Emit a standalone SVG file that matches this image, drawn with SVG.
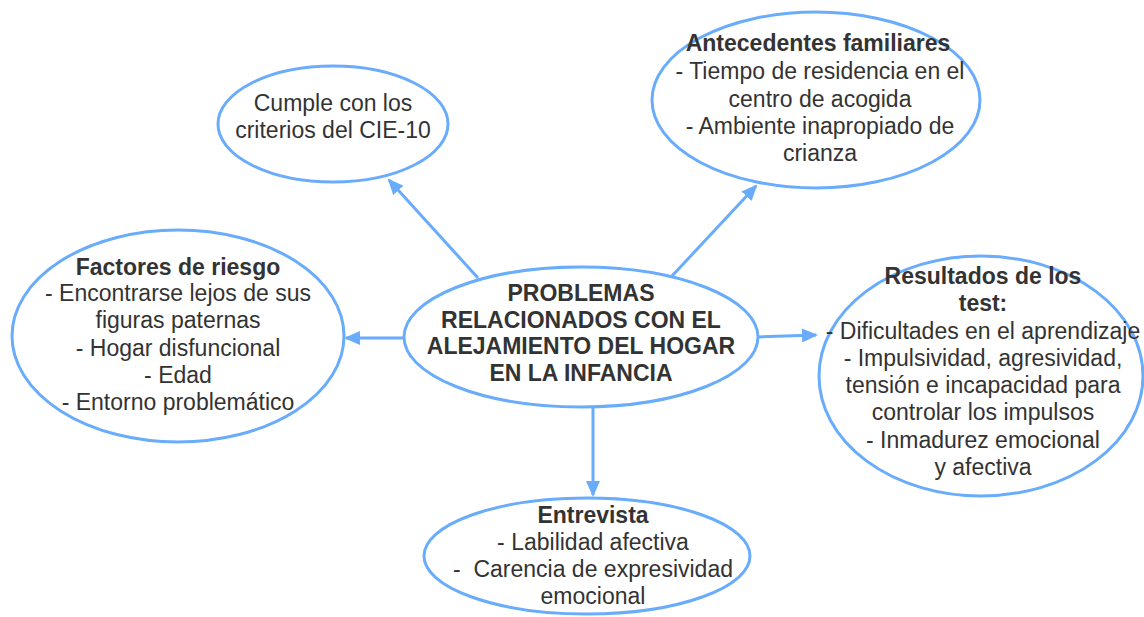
<svg xmlns="http://www.w3.org/2000/svg" width="1144" height="617" viewBox="0 0 1144 617">
<style>
.n{fill:#fff;stroke:#69acfb;stroke-width:3}
.c{stroke:#69acfb;stroke-width:3;fill:none}
text{font-family:"Liberation Sans",Arial,sans-serif;font-size:23px;fill:#333;text-anchor:middle}
.b{font-weight:bold}
</style>
<defs>
<marker id="ah" markerWidth="16" markerHeight="14" refX="14" refY="7" orient="auto" markerUnits="userSpaceOnUse">
<path d="M0,0 L16,7 L0,14 Z" fill="#69acfb"/>
</marker>
</defs>
<rect width="1144" height="617" fill="#fff"/>
<g id="connectors">
<line class="c" x1="478" y1="278" x2="389" y2="180" marker-end="url(#ah)"/>
<line class="c" x1="672" y1="276" x2="756" y2="186" marker-end="url(#ah)"/>
<line class="c" x1="404" y1="338" x2="346" y2="338" marker-end="url(#ah)"/>
<line class="c" x1="758" y1="337" x2="816" y2="335" marker-end="url(#ah)"/>
<line class="c" x1="593" y1="407" x2="593" y2="495" marker-end="url(#ah)"/>
</g>
<g id="center">
<ellipse class="n" cx="581" cy="337" rx="177" ry="70"/>
<text class="b" x="581" y="301">PROBLEMAS</text>
<text class="b" x="581" y="328">RELACIONADOS CON EL</text>
<text class="b" x="581" y="354">ALEJAMIENTO DEL HOGAR</text>
<text class="b" x="581" y="381">EN LA INFANCIA</text>
</g>
<g id="cumple">
<ellipse class="n" cx="333" cy="124" rx="115" ry="58"/>
<text x="333" y="111">Cumple con los</text>
<text x="333" y="138">criterios del CIE-10</text>
</g>
<g id="antecedentes">
<ellipse class="n" cx="816" cy="100" rx="164" ry="88"/>
<text class="b" x="818" y="51">Antecedentes familiares</text>
<text x="820" y="79">- Tiempo de residencia en el</text>
<text x="820" y="107">centro de acogida</text>
<text x="820" y="134">- Ambiente inapropiado de</text>
<text x="820" y="161">crianza</text>
</g>
<g id="factores">
<ellipse class="n" cx="178" cy="336" rx="166" ry="106"/>
<text class="b" x="178" y="275">Factores de riesgo</text>
<text x="178" y="301">- Encontrarse lejos de sus</text>
<text x="178" y="328">figuras paternas</text>
<text x="178" y="356">- Hogar disfuncional</text>
<text x="178" y="383">- Edad</text>
<text x="178" y="410">- Entorno problemático</text>
</g>
<g id="resultados">
<ellipse class="n" cx="981" cy="376" rx="162" ry="120"/>
<text class="b" x="983" y="284">Resultados de los</text>
<text class="b" x="983" y="311">test:</text>
<text x="983" y="339">- Dificultades en el aprendizaje</text>
<text x="983" y="366">- Impulsividad, agresividad,</text>
<text x="983" y="393">tensión e incapacidad para</text>
<text x="983" y="420">controlar los impulsos</text>
<text x="983" y="448">- Inmadurez emocional</text>
<text x="983" y="475">y afectiva</text>
</g>
<g id="entrevista">
<ellipse class="n" cx="587" cy="556" rx="163" ry="58"/>
<text class="b" x="593" y="523">Entrevista</text>
<text x="593" y="550">- Labilidad afectiva</text>
<text x="593" y="577" xml:space="preserve">-  Carencia de expresividad</text>
<text x="593" y="604">emocional</text>
</g>
</svg>
